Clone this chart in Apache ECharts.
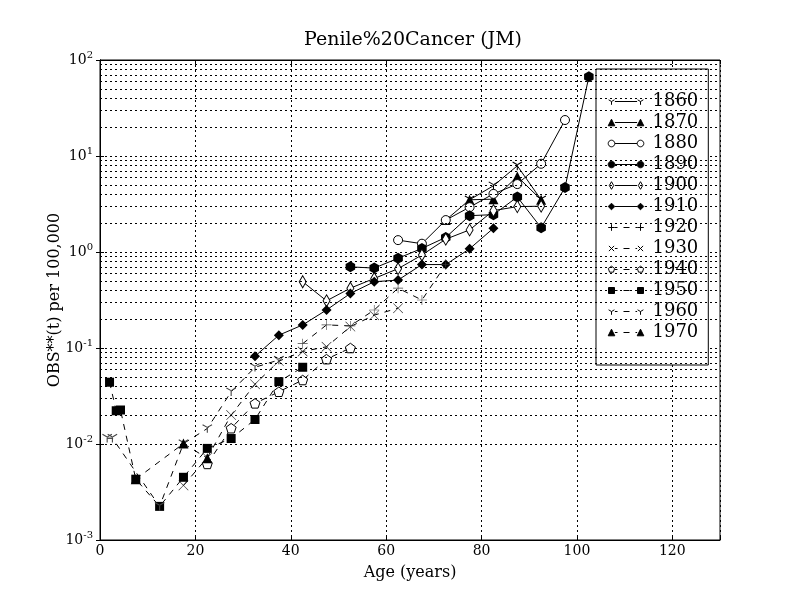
<!DOCTYPE html>
<html>
<head>
<meta charset="utf-8">
<script src="https://cdn.jsdelivr.net/npm/echarts@6/dist/echarts.min.js"></script>
<style>html,body{margin:0;padding:0;background:#fff}#c{width:800px;height:600px}</style>
</head>
<body>
<div id="c"></div>
<script>
// ---- data ----
const cohorts = ['1860','1870','1880','1890','1900','1910','1920','1930','1940','1950','1960','1970'];
const xTicks = [0, 20, 40, 60, 80, 100, 120];

const ages1860 = [77.5, 82.5, 87.5, 92.5];
const vals1860 = [3.5, 4.9, 7.9, 3.5];
const ages1870 = [72.5, 77.5, 82.5, 87.5, 92.5];
const vals1870 = [2.15, 3.5, 3.55, 6.1, 3.5];
const ages1880 = [62.5, 67.5, 72.5, 77.5, 82.5, 87.5, 92.5, 97.5];
const vals1880 = [1.33, 1.22, 2.15, 2.93, 4.03, 5.1, 8.3, 23.7];
const ages1890 = [52.5, 57.5, 62.5, 67.5, 72.5, 77.5, 82.5, 87.5, 92.5, 97.5, 102.5];
const vals1890 = [0.70, 0.68, 0.86, 1.09, 1.42, 2.39, 2.45, 3.74, 1.79, 4.7, 66.8];
const ages1900 = [42.5, 47.5, 52.5, 57.5, 62.5, 67.5, 72.5, 77.5, 82.5, 87.5, 92.5];
const vals1900 = [0.49, 0.31, 0.42, 0.53, 0.67, 0.93, 1.36, 1.70, 2.7, 2.97, 3.0];
const ages1910 = [32.5, 37.5, 42.5, 47.5, 52.5, 57.5, 62.5, 67.5, 72.5, 77.5, 82.5];
const vals1910 = [0.082, 0.136, 0.174, 0.249, 0.37, 0.49, 0.51, 0.74, 0.74, 1.08, 1.77];
const ages1920 = [42.5, 47.5, 52.5, 57.5, 62.5, 67.5, 72.5];
const vals1920 = [0.111, 0.174, 0.17, 0.249, 0.42, 0.316, 0.74];
const ages1930 = [17.5, 22.5, 27.5, 32.5, 37.5, 42.5, 47.5, 52.5, 57.5, 62.5];
const vals1930 = [0.0037, 0.0072, 0.020, 0.042, 0.073, 0.092, 0.103, 0.167, 0.22, 0.26];
const ages1940 = [22.5, 27.5, 32.5, 37.5, 42.5, 47.5, 52.5];
const vals1940 = [0.0062, 0.0146, 0.0265, 0.035, 0.0464, 0.0765, 0.100];
const ages1950 = [2, 3.4, 4.3, 7.5, 12.5, 17.5, 22.5, 27.5, 32.5, 37.5, 42.5];
const vals1950 = [0.044, 0.0222, 0.0226, 0.0043, 0.00224, 0.0045, 0.009, 0.0114, 0.018, 0.0446, 0.063];
const ages1960 = [1.5, 2.6, 12.5, 17.5, 22.5, 27.5, 32.5, 37.5];
const vals1960 = [0.0115, 0.0115, 0.00224, 0.0101, 0.0145, 0.035, 0.063, 0.075];
const ages1970 = [7.5, 17.5, 22.5];
const vals1970 = [0.0043, 0.0101, 0.0071];

const agesList = [ages1860, ages1870, ages1880, ages1890, ages1900, ages1910, ages1920, ages1930, ages1940, ages1950, ages1960, ages1970];
const valsList = [vals1860, vals1870, vals1880, vals1890, vals1900, vals1910, vals1920, vals1930, vals1940, vals1950, vals1960, vals1970];

// ---- marker styles ----
const P_TRI_DOWN = 'path://M9,10L11,10L11,20L9,20Z M10.5,9.13L1.84,4.13L0.84,5.87L9.5,10.87Z M9.5,9.13L18.16,4.13L19.16,5.87L10.5,10.87Z';
const P_PLUS = 'path://M9.4,0h1.2v9.4h9.4v1.2h-9.4v9.4h-1.2v-9.4h-9.4v-1.2h9.4z';
const P_X = 'path://M0.8,0L10,9.2L19.2,0L20,0.8L10.8,10L20,19.2L19.2,20L10,10.8L0.8,20L0,19.2L9.2,10L0,0.8Z';
const P_PENT = 'path://M10,0L19.51,6.91L15.88,18.09L4.12,18.09L0.49,6.91Z';
const P_HEX = 'path://M10,0L18.66,5L18.66,15L10,20L1.34,15L1.34,5Z';

// kind: used to build the legend icon (markers at both ends of a line sample)
const markerDefs = [
  {symbol: P_TRI_DOWN, size: 10, fill: '#000', border: 0, kind: 'tridown'},
  {symbol: 'triangle', size: 10, fill: '#000', border: 0, kind: 'tri'},
  {symbol: 'circle', size: 9, fill: '#fff', border: 1, kind: 'circle'},
  {symbol: P_HEX, size: 11, fill: '#000', border: 0, kind: 'circle'},
  {symbol: 'diamond', size: [7, 12], fill: '#fff', border: 1, kind: 'thind'},
  {symbol: 'diamond', size: 10, fill: '#000', border: 0, kind: 'diamond'},
  {symbol: P_PLUS, size: 10, fill: '#444', border: 0, kind: 'plus'},
  {symbol: P_X, size: 10, fill: '#222', border: 0, kind: 'x'},
  {symbol: P_PENT, size: 10, fill: '#fff', border: 1, kind: 'pent'},
  {symbol: 'rect', size: 9, fill: '#000', border: 0, kind: 'rect'},
  {symbol: P_TRI_DOWN, size: 10, fill: '#444', border: 0, kind: 'tridown'},
  {symbol: 'triangle', size: 10, fill: '#000', border: 0, kind: 'tri'}
];

const FONT = 'DejaVu Serif';

// ---- legend icon paths (box 40 x 12, markers centred at x=4 and x=33) ----
function f(n) { return (Math.round(n * 100) / 100).toString(); }
function poly(pts) { return 'M' + pts.map(p => f(p[0]) + ',' + f(p[1])).join('L') + 'Z'; }
function markerPath(kind, cx, cy) {
  const r = 3.3;
  switch (kind) {
    case 'tri': return poly([[cx, cy - r], [cx + r, cy + r], [cx - r, cy + r]]);
    case 'circle': {
      const pts = [];
      for (let k = 0; k < 16; k++) { const a = k * Math.PI / 8; pts.push([cx + r * Math.cos(a), cy + r * Math.sin(a)]); }
      return poly(pts);
    }
    case 'thind': return poly([[cx, cy - r - 0.5], [cx + 2.2, cy], [cx, cy + r + 0.5], [cx - 2.2, cy]]);
    case 'diamond': return poly([[cx, cy - r], [cx + r, cy], [cx, cy + r], [cx - r, cy]]);
    case 'pent': {
      const pts = [];
      for (let k = 0; k < 5; k++) { const a = -Math.PI / 2 + k * 2 * Math.PI / 5; pts.push([cx + r * Math.cos(a), cy + r * Math.sin(a)]); }
      return poly(pts);
    }
    case 'rect': return poly([[cx - 3, cy - 3], [cx + 3, cy - 3], [cx + 3, cy + 3], [cx - 3, cy + 3]]);
    case 'plus': return 'M' + f(cx - r) + ',' + f(cy) + 'L' + f(cx + r) + ',' + f(cy) + 'M' + f(cx) + ',' + f(cy - r) + 'L' + f(cx) + ',' + f(cy + r);
    case 'x': return 'M' + f(cx - 2.6) + ',' + f(cy - 2.6) + 'L' + f(cx + 2.6) + ',' + f(cy + 2.6) + 'M' + f(cx - 2.6) + ',' + f(cy + 2.6) + 'L' + f(cx + 2.6) + ',' + f(cy - 2.6);
    case 'tridown': return 'M' + f(cx) + ',' + f(cy) + 'L' + f(cx) + ',' + f(cy + r) + 'M' + f(cx) + ',' + f(cy) + 'L' + f(cx - 2.9) + ',' + f(cy - 1.7) + 'M' + f(cx) + ',' + f(cy) + 'L' + f(cx + 2.9) + ',' + f(cy - 1.7);
  }
  return '';
}
function legendIcon(i) {
  const m = markerDefs[i];
  const cy = 6, x1 = 4, x2 = 33, gap = 3.4;
  let p = 'M0,0L0,0M40,12L40,12';
  if (i < 6) {
    p += 'M' + f(x1 + gap) + ',' + cy + 'L' + f(x2 - gap) + ',' + cy;
  } else {
    p += 'M' + f(x1 + gap) + ',' + cy + 'L10,' + cy;
    p += 'M16,' + cy + 'L22,' + cy;
    p += 'M28,' + cy + 'L' + f(x2 - gap) + ',' + cy;
  }
  p += markerPath(m.kind, x1, cy) + markerPath(m.kind, x2, cy);
  return 'path://' + p;
}

const series = cohorts.map((name, i) => {
  const m = markerDefs[i];
  return {
    name: name,
    type: 'line',
    data: agesList[i].map((a, j) => [a, valsList[i][j]]),
    symbol: m.symbol,
    symbolSize: m.size,
    symbolKeepAspect: true,
    showSymbol: true,
    z: 3,
    lineStyle: {color: '#000', width: 1, type: i < 6 ? 'solid' : [6, 6]},
    itemStyle: {color: m.fill, borderColor: '#000', borderWidth: m.border, opacity: 1},
    emphasis: {disabled: true}
  };
});

// minor horizontal grid lines at 2..9 x 10^k (log axis)
const minorVals = [];
for (let k = -3; k <= 1; k++) {
  for (let mm = 2; mm <= 9; mm++) minorVals.push(mm * Math.pow(10, k));
}
series.push({
  name: 'minorgrid',
  type: 'line',
  data: [],
  silent: true,
  z: 1,
  markLine: {
    silent: true,
    symbol: 'none',
    label: {show: false},
    lineStyle: {color: '#000', width: 1, type: [2, 3]},
    emphasis: {disabled: true},
    data: minorVals.map(v => ({yAxis: v}))
  }
});

const chart = echarts.init(document.getElementById('c'), null, {renderer: 'canvas'});
chart.setOption({
  animation: false,
  backgroundColor: '#fff',
  textStyle: {fontFamily: FONT},
  title: {
    text: 'Penile%20Cancer (JM)',
    left: 408,
    textAlign: 'center',
    top: 26,
    textStyle: {fontFamily: FONT, fontSize: 19, fontWeight: 'normal', color: '#000'}
  },
  grid: {left: 100, right: 80, top: 60, bottom: 60, show: true, borderColor: '#000', borderWidth: 1, backgroundColor: 'transparent'},
  legend: {
    data: cohorts.map((name, i) => ({name: name, icon: legendIcon(i)})),
    orient: 'vertical',
    left: 596,
    top: 69,
    padding: [22, 10, 22, 11],
    itemGap: 0,
    itemWidth: 40,
    itemHeight: 12,
    itemStyle: {borderColor: '#000', borderWidth: 1},
    borderColor: '#000',
    borderWidth: 1,
    backgroundColor: '#fff',
    textStyle: {fontFamily: FONT, fontSize: 18, color: '#000', lineHeight: 21},
    selectedMode: false
  },
  xAxis: [{
    type: 'value', min: 0, max: 130, interval: 20,
    name: 'Age (years)', nameLocation: 'middle', nameGap: 25,
    nameMoveOverlap: false,
    nameTextStyle: {fontFamily: FONT, fontSize: 16, color: '#000'},
    axisLine: {show: true, lineStyle: {color: '#000'}},
    axisTick: {show: true, inside: true, length: 4, lineStyle: {color: '#000'}},
    axisLabel: {fontFamily: FONT, fontSize: 14, color: '#000', margin: 4,
      formatter: v => (xTicks.indexOf(v) >= 0 ? String(v) : '')},
    splitLine: {show: true, lineStyle: {color: '#000', width: 1, type: [2, 3]}}
  }, {
    type: 'value', min: 0, max: 130, interval: 20, position: 'top',
    axisLine: {show: true, lineStyle: {color: '#000'}},
    axisTick: {show: true, inside: true, length: 4, lineStyle: {color: '#000'}},
    axisLabel: {show: false},
    splitLine: {show: false}
  }],
  yAxis: [{
    type: 'log', logBase: 10, min: 0.001, max: 100,
    name: 'OBS**(t) per 100,000', nameLocation: 'middle', nameGap: 37,
    nameMoveOverlap: false,
    nameTextStyle: {fontFamily: FONT, fontSize: 16, color: '#000'},
    axisLine: {show: true, lineStyle: {color: '#000'}},
    axisTick: {show: true, inside: true, length: 4, lineStyle: {color: '#000'}},
    axisLabel: {
      margin: 7,
      formatter: v => '{b|10}{s|' + Math.round(Math.log10(v)) + '}',
      rich: {
        b: {fontFamily: FONT, fontSize: 14, color: '#000'},
        s: {fontFamily: FONT, fontSize: 10, color: '#000', padding: [0, 0, 10, 0]}
      }
    },
    splitLine: {show: true, lineStyle: {color: '#000', width: 1, type: [2, 3]}}
  }, {
    type: 'log', logBase: 10, min: 0.001, max: 100, position: 'right',
    axisLine: {show: true, lineStyle: {color: '#000'}},
    axisTick: {show: true, inside: true, length: 4, lineStyle: {color: '#000'}},
    axisLabel: {show: false},
    splitLine: {show: false}
  }],
  series: series
});
</script>
</body>
</html>
